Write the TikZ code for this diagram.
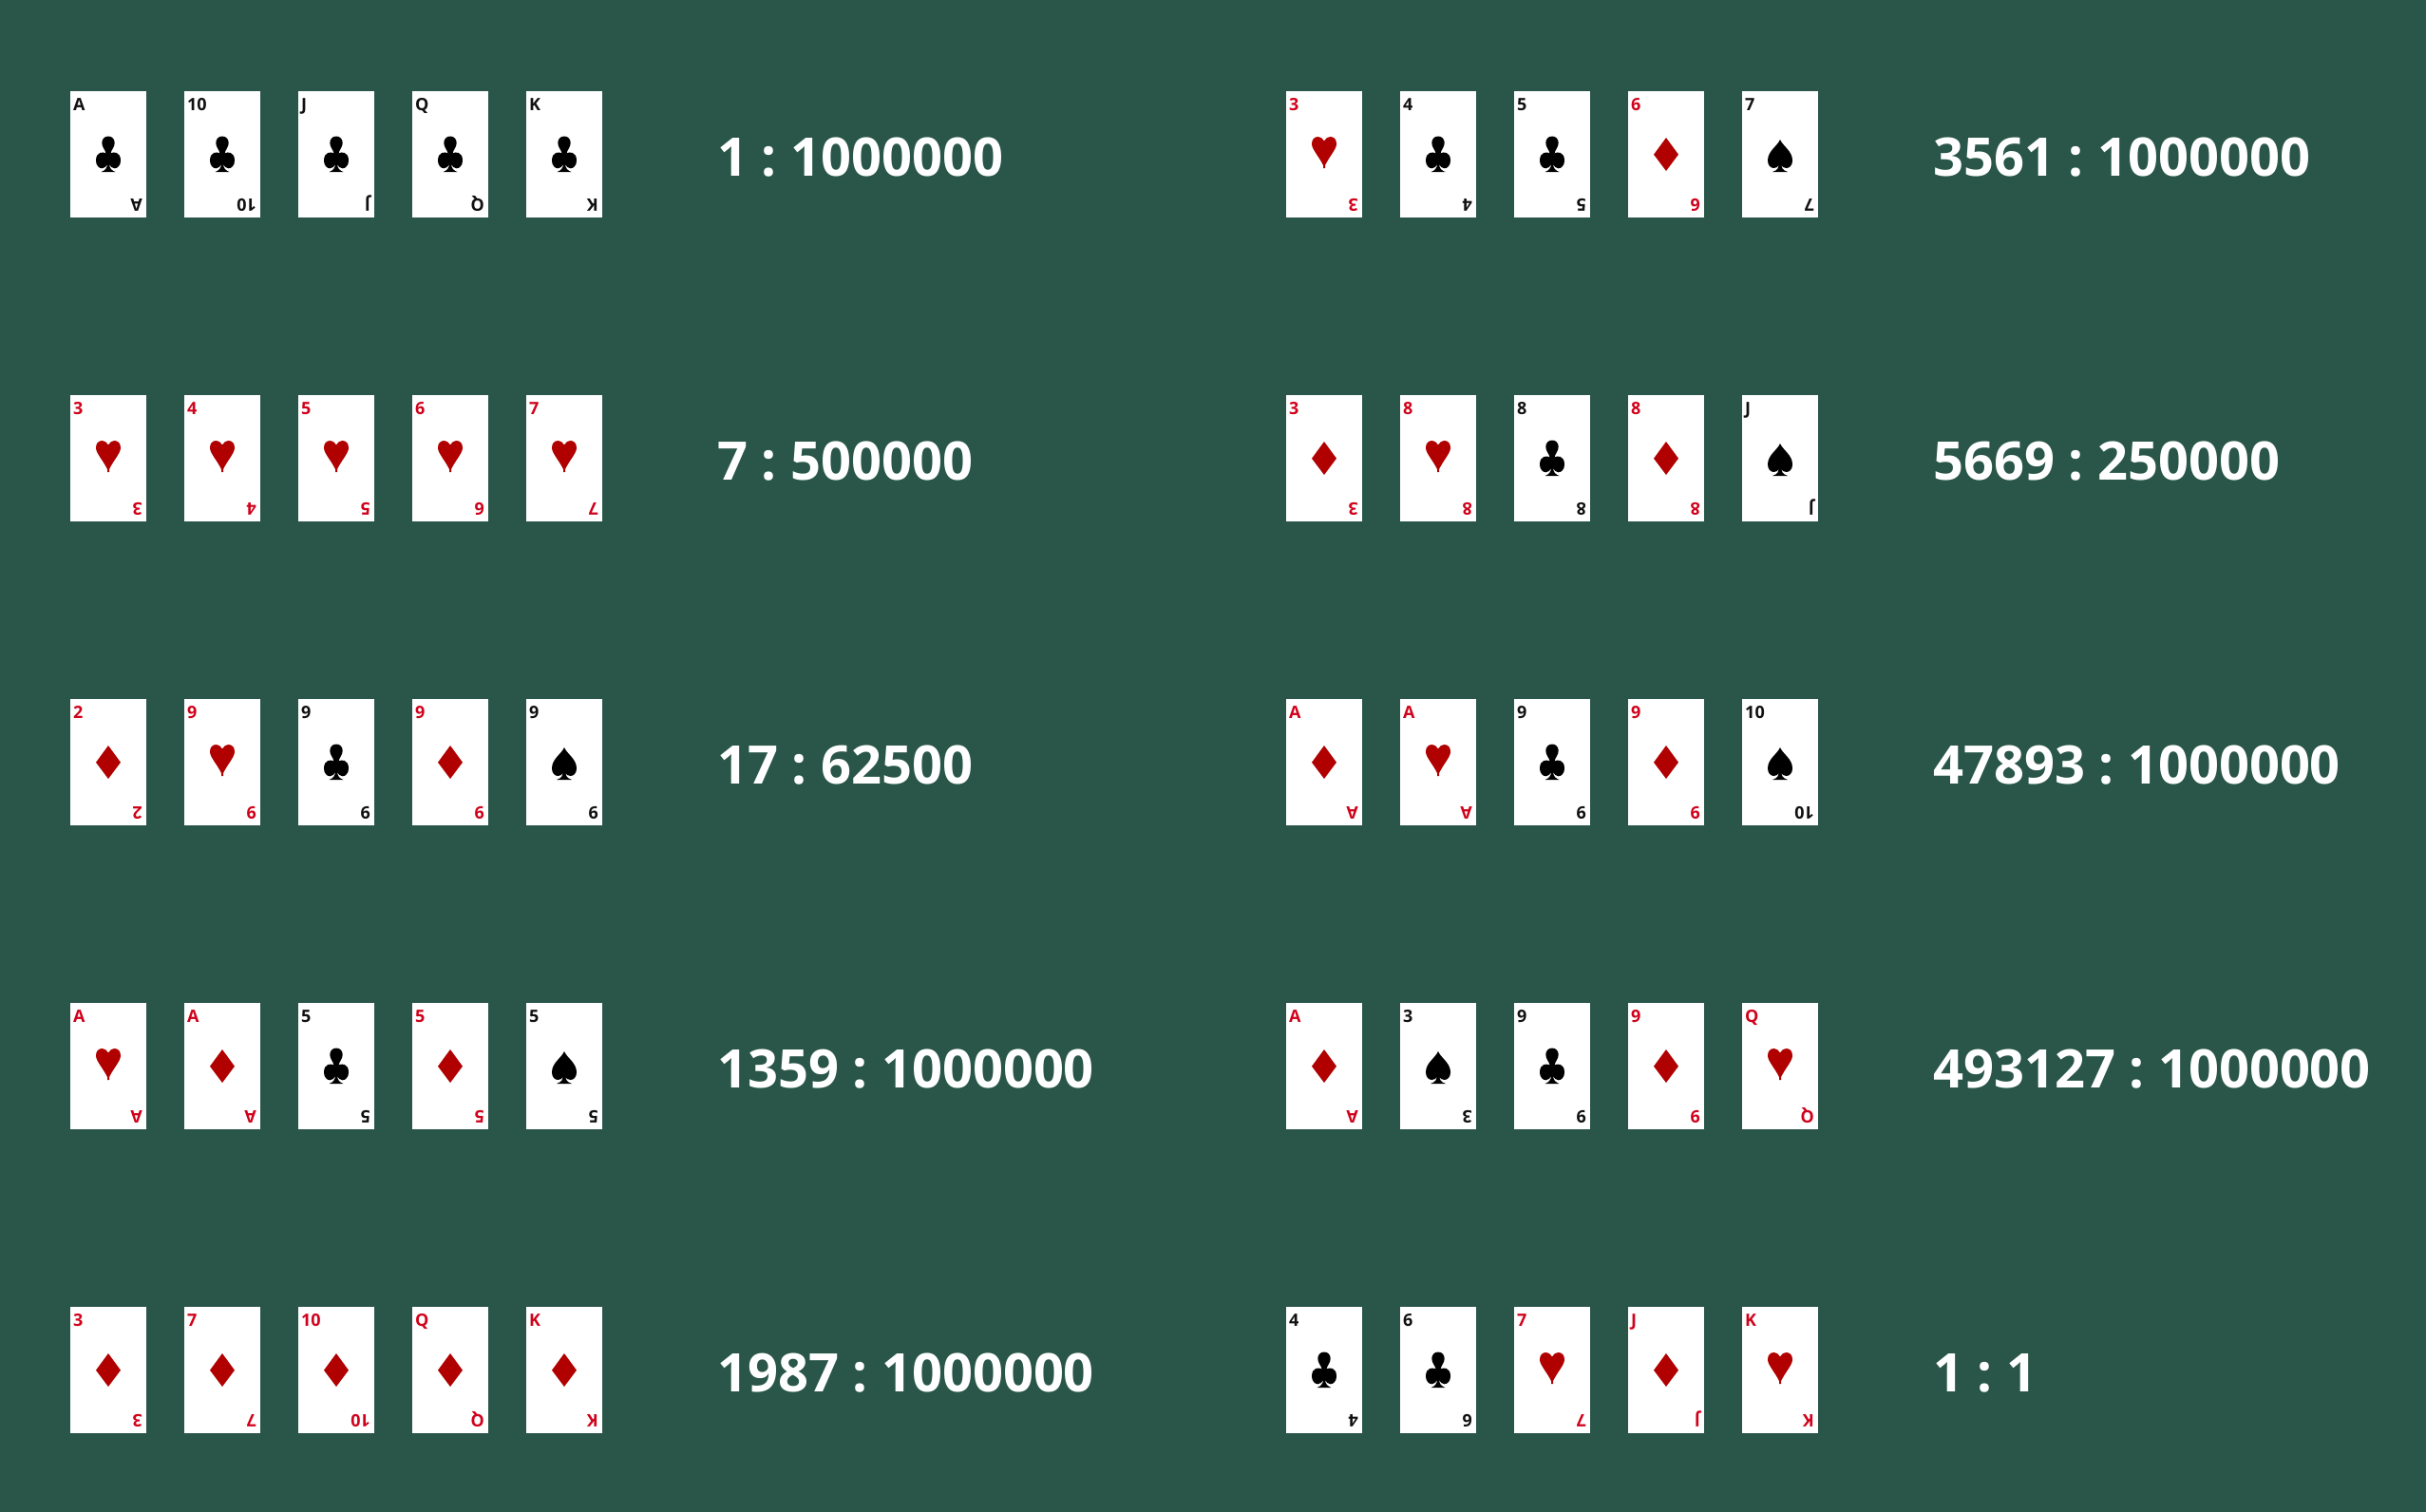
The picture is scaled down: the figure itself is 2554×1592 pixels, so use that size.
\documentclass[tikz,border=0pt]{standalone}
\usepackage{fontspec}
\setmainfont{Open Sans}
\frenchspacing
\definecolor{felt}{HTML}{295648}
\definecolor{rankred}{HTML}{D0021B}
\definecolor{rankblack}{HTML}{111111}
\definecolor{suitred}{HTML}{B00000}
\definecolor{suitblack}{HTML}{000000}
\tikzset{
  face/.style={fill=white,draw=none,inner sep=0pt,minimum width=80pt,minimum height=133pt,anchor=north west},
  ranktext/.style={font=\fontsize{18pt}{18pt}\selectfont\bfseries,inner sep=0pt,anchor=base west},
  oddstext/.style={font=\fontsize{56pt}{56pt}\selectfont\bfseries,text=white,inner sep=0pt,anchor=base west},
}
\newcommand{\drawsuitc}{%
  \fill[suitblack] (0,47.5) .. controls (4,47.5) and (6.7,50.5) .. (6.7,54.5)
    .. controls (6.7,59) and (3,62) .. (2.5,65.5)
    .. controls (5,63.5) and (13,63.5) .. (13,73)
    .. controls (13,78) and (10,81.3) .. (6.5,81.3)
    .. controls (4,81.3) and (2,79) .. (1,77)
    .. controls (1.3,80.5) and (3,83.5) .. (7.5,85)
    -- (-7.5,85)
    .. controls (-3,83.5) and (-1.3,80.5) .. (-1,77)
    .. controls (-2,79) and (-4,81.3) .. (-6.5,81.3)
    .. controls (-10,81.3) and (-13,78) .. (-13,73)
    .. controls (-13,63.5) and (-5,63.5) .. (-2.5,65.5)
    .. controls (-3,62) and (-6.7,59) .. (-6.7,54.5)
    .. controls (-6.7,50.5) and (-4,47.5) .. (0,47.5) -- cycle;}
\newcommand{\drawsuith}{%
  \fill[suitred] (0,52.5) .. controls (1.5,49.5) and (4,48) .. (6.5,48)
    .. controls (10.5,48) and (13,51) .. (13,55.5)
    .. controls (13,61) and (6,68) .. (1,78) -- (1,81) -- (-1,81) -- (-1,78)
    .. controls (-6,68) and (-13,61) .. (-13,55.5)
    .. controls (-13,51) and (-10.5,48) .. (-6.5,48)
    .. controls (-4,48) and (-1.5,49.5) .. (0,52.5) -- cycle;}
\newcommand{\drawsuitd}{%
  \fill[suitred] (0,49) -- (13,66.7) -- (0,84) -- (-13,66.7) -- cycle;}
\newcommand{\drawsuits}{%
  \fill[suitblack] (0,51) .. controls (3,58) and (13,63) .. (13,73)
    .. controls (13,78) and (10,81) .. (6.5,81)
    .. controls (4,81) and (2,79.5) .. (1,77.5)
    .. controls (1.3,80.5) and (3,83.5) .. (8,85)
    -- (-8,85)
    .. controls (-3,83.5) and (-1.3,80.5) .. (-1,77.5)
    .. controls (-2,79.5) and (-4,81) .. (-6.5,81)
    .. controls (-10,81) and (-13,78) .. (-13,73)
    .. controls (-13,63) and (-3,58) .. (0,51) -- cycle;}
\def\colourc{rankblack}
\def\colours{rankblack}
\def\colourh{rankred}
\def\colourd{rankred}
\begin{document}
\begin{tikzpicture}[x=1pt,y=-1pt]
\useasboundingbox (0,0) rectangle (2554,1592);
\fill[felt] (0,0) rectangle (2554,1592);
\foreach \cx/\ry/\odds/\hand in {
  0/0/{1 : 1000000}/{A/c,10/c,J/c,Q/c,K/c},
  0/1/{7 : 500000}/{3/h,4/h,5/h,6/h,7/h},
  0/2/{17 : 62500}/{2/d,9/h,9/c,9/d,9/s},
  0/3/{1359 : 1000000}/{A/h,A/d,5/c,5/d,5/s},
  0/4/{1987 : 1000000}/{3/d,7/d,10/d,Q/d,K/d},
  1/0/{3561 : 1000000}/{3/h,4/c,5/c,6/d,7/s},
  1/1/{5669 : 250000}/{3/d,8/h,8/c,8/d,J/s},
  1/2/{47893 : 1000000}/{A/d,A/h,9/c,9/d,10/s},
  1/3/{493127 : 1000000}/{A/d,3/s,9/c,9/d,Q/h},
  1/4/{1 : 1}/{4/c,6/c,7/h,J/d,K/h}}{
  \pgfmathsetmacro\tx{755+\cx*1280}
  \pgfmathsetmacro\ty{185+\ry*320}
  \node[oddstext] (odds-\cx-\ry) at (\tx,\ty) {\odds};
  \foreach \rk/\st [count=\i] in \hand {
    \pgfmathsetmacro\xx{74+\cx*1280+(\i-1)*120}
    \pgfmathsetmacro\yy{96+\ry*320}
    \begin{scope}[shift={(\xx,\yy)}]
      \node[face] (card-\cx-\ry-\i) at (0,0) {};
      \node[ranktext,text=\csname colour\st\endcsname] (top-\cx-\ry-\i) at (3,20.7) {\rk};
      \node[ranktext,text=\csname colour\st\endcsname,rotate=180] (bot-\cx-\ry-\i) at (76,113) {\rk};
      \begin{scope}[shift={(40,0)}]
        \csname drawsuit\st\endcsname
      \end{scope}
    \end{scope}
  }
}
\end{tikzpicture}
\end{document}
